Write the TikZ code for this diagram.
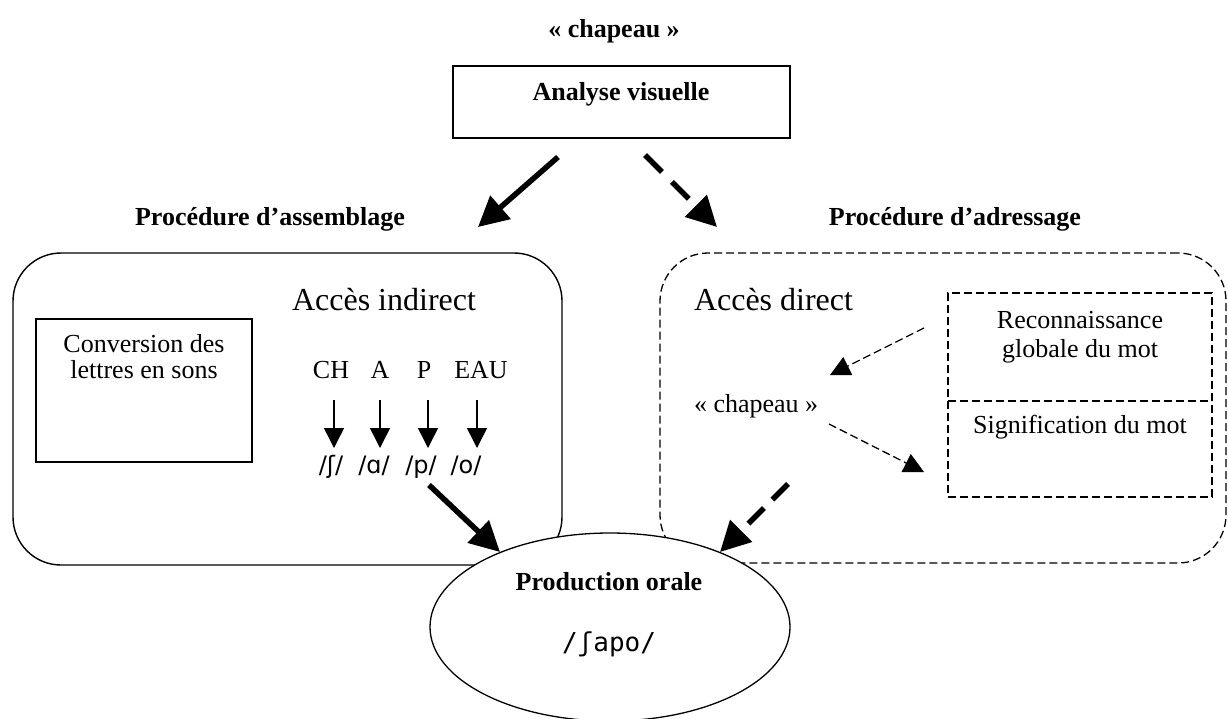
\documentclass[tikz,border=0pt]{standalone}
\usepackage{fontspec}
\setmainfont{Liberation Serif}
\newfontfamily\ipafont{DejaVu Sans}
\newfontfamily\ipamono{DejaVu Sans Mono}
\usetikzlibrary{arrows.meta,shapes.geometric}
\newcommand\fsN{\fontsize{26}{27}\selectfont}
\newcommand\fsB{\fontsize{32}{34}\selectfont}
\begin{document}
\begin{tikzpicture}[x=1pt,y=-1pt,
  txt/.style={inner sep=0pt, outer sep=0pt, font=\fsN, anchor=base},
  lbl/.style={txt, font=\fsN\bfseries},
  big/.style={txt, font=\fsB},
  ipa/.style={txt, font=\fontsize{24}{26}\selectfont\ipafont},
  boxline/.style={draw, line width=1.4pt, inner sep=0pt, outer sep=0pt},
  dashline/.style={draw, line width=1.3pt, dash pattern=on 8pt off 4pt, inner sep=0pt, outer sep=0pt},
  thickarrow/.style={line width=5.5pt, -{Triangle[length=30pt,width=30pt]}},
  thickdash/.style={thickarrow, dash pattern=on 24pt off 14pt},
  smallarrow/.style={line width=1.5pt, -{Triangle[length=20pt,width=20pt]}},
  smalldash/.style={line width=1.3pt, dash pattern=on 8pt off 4pt, -{Triangle[length=20pt,width=20pt]}},
]
\useasboundingbox (0,0) rectangle (1228,718);

% top
\node[lbl] (title) at (614,37) {« chapeau »};
\node[boxline, minimum width=337pt, minimum height=72pt] (analyse) at (621.5,102) {};
\node[lbl] (analysetxt) at (621,100) {Analyse visuelle};

\coordinate (a1s) at (558,157);
\coordinate (a1e) at (478,227);
\coordinate (a2s) at (645,155);
\coordinate (a2e) at (717,227);
\draw[thickarrow] (a1s) -- (a1e);
\draw[thickdash] (a2s) -- (a2e);

\node[lbl] (assemb) at (270,225) {Procédure d’assemblage};
\node[lbl] (adress) at (955,225) {Procédure d’adressage};

% big boxes
\node[boxline, rounded corners=48pt, minimum width=549pt, minimum height=312pt] (leftbox) at (287.5,409) {};
\node[dashline, rounded corners=48pt, minimum width=566pt, minimum height=310pt] (rightbox) at (943,408) {};

% left content
\node[big] (indirect) at (384,310) {Accès indirect};
\node[boxline, minimum width=216pt, minimum height=143pt] (conv) at (144,390.5) {};
\node[txt] (conv1) at (144,352) {Conversion des};
\node[txt] (conv2) at (144,378) {lettres en sons};

\node[txt] (ch) at (331,378) {CH};
\node[txt] (la) at (380,378) {A};
\node[txt] (lp) at (424,378) {P};
\node[txt] (eau) at (481,378) {EAU};

\coordinate (c1s) at (334,400); \coordinate (c1e) at (334,448);
\coordinate (c2s) at (380,400); \coordinate (c2e) at (380,448);
\coordinate (c3s) at (428,400); \coordinate (c3e) at (428,448);
\coordinate (c4s) at (477,400); \coordinate (c4e) at (477,448);
\draw[smallarrow] (c1s) -- (c1e);
\draw[smallarrow] (c2s) -- (c2e);
\draw[smallarrow] (c3s) -- (c3e);
\draw[smallarrow] (c4s) -- (c4e);

\node[ipa] (ph1) at (331,473) {/ʃ/};
\node[ipa] (ph2) at (374,473) {/ɑ/};
\node[ipa] (ph3) at (421,473) {/p/};
\node[ipa] (ph4) at (466,473) {/o/};

% right content
\node[big, anchor=base west] (direct) at (694,310) {Accès direct};
\node[dashline, minimum width=264pt, minimum height=204pt] (inner) at (1080,395) {};
\coordinate (divL) at (948,401);
\coordinate (divR) at (1212,401);
\draw[dashline] (divL) -- (divR);
\node[txt] (rec1) at (1080,328) {Reconnaissance};
\node[txt] (rec2) at (1080,357) {globale du mot};
\node[txt] (sig) at (1080,433) {Signification du mot};
\node[txt, anchor=base west] (chap) at (694,412) {« chapeau »};

\coordinate (d1s) at (924,328); \coordinate (d1e) at (830,375);
\coordinate (d2s) at (829,424); \coordinate (d2e) at (924,472);
\draw[smalldash] (d1s) -- (d1e);
\draw[smalldash] (d2s) -- (d2e);

% production
\node[draw, ellipse, line width=1.3pt, fill=white, minimum width=360pt, minimum height=188pt, inner sep=0pt] (prod) at (610,627) {};
\node[lbl] (prodtxt) at (609,590) {Production orale};
\node[txt, font=\fontsize{26}{28}\selectfont\ipamono] (prodipa) at (609,651) {/ʃapo/};

\coordinate (p1s) at (429,485); \coordinate (p1e) at (500,552);
\coordinate (p2s) at (788,484); \coordinate (p2e) at (720,552);
\draw[thickarrow] (p1s) -- (p1e);
\draw[thickdash, dash pattern=on 22pt off 12pt] (p2s) -- (p2e);
\end{tikzpicture}
\end{document}
